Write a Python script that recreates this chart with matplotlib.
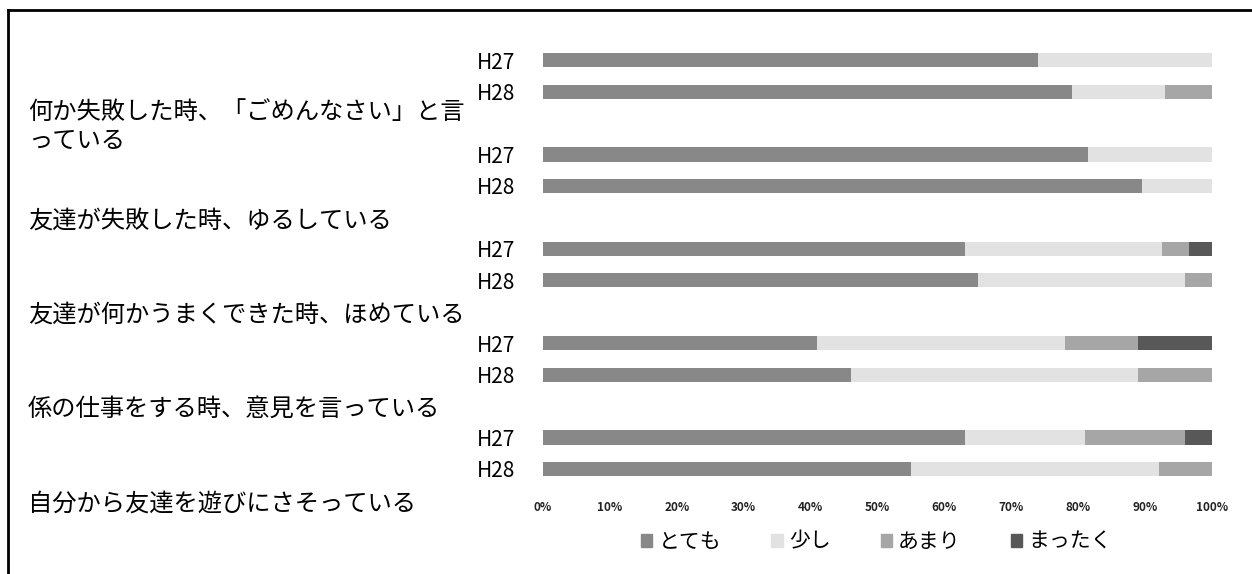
import matplotlib.pyplot as plt
import matplotlib.transforms as mtransforms
from matplotlib.lines import Line2D
import numpy as np

plt.rcParams['font.family'] = ['Noto Sans CJK JP', 'DejaVu Sans']

items = ['何か失敗した時、「ごめんなさい」と言\nっている',
         '友達が失敗した時、ゆるしている',
         '友達が何かうまくできた時、ほめている',
         '係の仕事をする時、意見を言っている',
         '自分から友達を遊びにさそっている']
years = ['H27', 'H28']
answers = ['とても', '少し', 'あまり', 'まったく']

# percent per answer, rows: item0 H27, item0 H28, item1 H27, ...
totemo  = [74, 79, 81.5, 89.5, 63, 65, 41, 46, 63, 55]
sukoshi = [26, 14, 18.5, 10.5, 29.5, 31, 37, 43, 18, 37]
amari   = [0, 7, 0, 0, 4, 4, 11, 11, 15, 8]
mattaku = [0, 0, 0, 0, 3.5, 0, 11, 0, 4, 0]

colors = ['#888888', '#e2e2e2', '#a6a6a6', '#585858']

fig = plt.figure(figsize=(12.52, 5.74), dpi=100)
ax = fig.add_axes([0.4337, 0.1446, 0.5344, 0.7944])

ypos = []
for i in range(len(items)):
    ypos += [i * 3, i * 3 + 1]
ypos = np.array(ypos)

left = np.zeros(len(ypos))
for vals, c, name in zip([totemo, sukoshi, amari, mattaku], colors, answers):
    vals = np.array(vals) / 100
    ax.barh(ypos, vals, left=left, height=0.45, color=c, label=name)
    left = left + vals

ax.set_xlim(0, 1)
ax.set_ylim(13.7, -0.8)
ax.set_xticks(np.linspace(0, 1, 11))
ax.set_xticklabels([f'{int(round(v * 100))}%' for v in np.linspace(0, 1, 11)],
                   fontsize=8.5, fontweight='bold', color='#222222')
ax.set_yticks(ypos)
ax.set_yticklabels(years * len(items), fontsize=15)
ax.tick_params(axis='y', length=0, pad=20)
ax.tick_params(axis='x', length=0, pad=7)
for s in ax.spines.values():
    s.set_visible(False)

# item labels sit under each pair of bars
trans = mtransforms.blended_transform_factory(fig.transFigure, ax.transData)
for i, txt in enumerate(items):
    ax.text(0.0224, i * 3 + 2.1, txt, transform=trans, ha='left', va='center',
            fontsize=17.5, linespacing=1.15, clip_on=False)

handles = [plt.Rectangle((0, 0), 1, 1, color=c) for c in colors]
fig.legend(handles, answers, loc='center', bbox_to_anchor=(0.70, 0.056), ncol=4,
           frameon=False, fontsize=15, handlelength=0.55, handleheight=0.55,
           handletextpad=0.3, columnspacing=2.4)

# outer frame of the scanned chart
fig.add_artist(Line2D([0.0064, 0.0064], [0, 0.983], color='black', lw=2,
                      transform=fig.transFigure))
fig.add_artist(Line2D([0.0064, 1], [0.983, 0.983], color='black', lw=2,
                      transform=fig.transFigure))

fig.savefig('out.png', dpi=100)
